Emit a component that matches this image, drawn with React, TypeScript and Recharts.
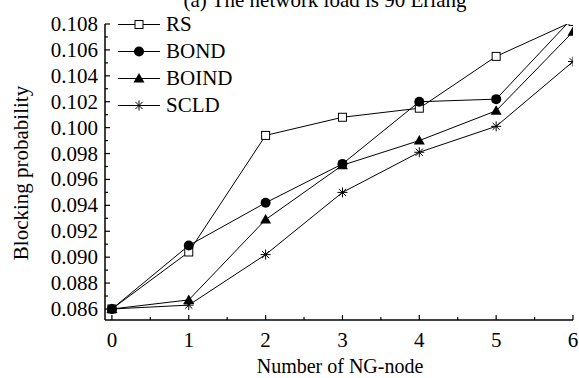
import React from 'react'
import { LineChart, Line, XAxis, YAxis, Legend } from 'recharts'

// values
const NODES = [0, 1, 2, 3, 4, 5, 6]
const RS = [0.086, 0.0904, 0.0994, 0.1008, 0.1015, 0.1055, 0.1082]
const BOND = [0.086, 0.0909, 0.0942, 0.0972, 0.102, 0.1022, 0.1085]
const BOIND = [0.086, 0.0867, 0.0929, 0.0971, 0.099, 0.1013, 0.1074]
const SCLD = [0.086, 0.0863, 0.0902, 0.095, 0.0981, 0.1001, 0.1051]

const X_TICKS = [0, 1, 2, 3, 4, 5, 6]
const Y_TICKS = [0.086, 0.088, 0.09, 0.092, 0.094, 0.096, 0.098, 0.1, 0.102, 0.104, 0.106, 0.108]

const FONT = '"Liberation Serif", "Times New Roman", serif'
const W = 579
const H = 378

type MarkerKind = 'square' | 'circle' | 'triangle' | 'star'

const SERIES: { key: string; label: string; marker: MarkerKind }[] = [
  { key: 'rs', label: 'RS', marker: 'square' },
  { key: 'bond', label: 'BOND', marker: 'circle' },
  { key: 'boind', label: 'BOIND', marker: 'triangle' },
  { key: 'scld', label: 'SCLD', marker: 'star' },
]

const data = NODES.map((n, i) => ({
  node: n,
  rs: RS[i],
  bond: BOND[i],
  boind: BOIND[i],
  scld: SCLD[i],
}))

// major ticks plus a minor one halfway between
const withMinor = (ticks: number[]) =>
  ticks.flatMap((t, i) => (i < ticks.length - 1 ? [t, (t + ticks[i + 1]) / 2] : [t]))

const isMajor = (v: number, ticks: number[]) => ticks.some(t => Math.abs(t - v) < 1e-9)

function Marker({ kind, cx, cy }: { kind: MarkerKind; cx: number; cy: number }) {
  switch (kind) {
    case 'square':
      return <rect x={cx - 4} y={cy - 4} width={8} height={8} fill="#fff" stroke="#000" strokeWidth={1} />
    case 'circle':
      return <circle cx={cx} cy={cy} r={5} fill="#000" />
    case 'triangle':
      return <path d={`M${cx},${cy - 5.5} L${cx + 5.5},${cy + 4} L${cx - 5.5},${cy + 4} Z`} fill="#000" />
    default:
      return (
        <g stroke="#000" strokeWidth={1}>
          <line x1={cx} y1={cy - 5} x2={cx} y2={cy + 5} />
          <line x1={cx - 5} y1={cy} x2={cx + 5} y2={cy} />
          <line x1={cx - 3.6} y1={cy - 3.6} x2={cx + 3.6} y2={cy + 3.6} />
          <line x1={cx - 3.6} y1={cy + 3.6} x2={cx + 3.6} y2={cy - 3.6} />
        </g>
      )
  }
}

const XTick = ({ x, y, payload }: any) => {
  const major = isMajor(payload.value, X_TICKS)
  return (
    <g>
      <line x1={x} y1={y} x2={x} y2={y - (major ? 5 : 3)} stroke="#000" strokeWidth={1.2} />
      {major && (
        <text x={x} y={y + 27} textAnchor="middle" fill="#000" fontSize={21} fontFamily={FONT}>
          {payload.value}
        </text>
      )}
    </g>
  )
}

const YTick = ({ x, y, payload }: any) => {
  const major = isMajor(payload.value, Y_TICKS)
  return (
    <g>
      <line x1={x} y1={y} x2={x + (major ? 5 : 3)} y2={y} stroke="#000" strokeWidth={1.2} />
      {major && (
        <text x={x - 7} y={y + 7} textAnchor="end" fill="#000" fontSize={21} fontFamily={FONT}>
          {payload.value.toFixed(3)}
        </text>
      )}
    </g>
  )
}

const LegendBox = () => (
  <div style={{ fontFamily: FONT, fontSize: 21, color: '#000' }}>
    {SERIES.map(s => (
      <div key={s.key} style={{ display: 'flex', alignItems: 'center', height: 27 }}>
        <svg width={44} height={27} style={{ display: 'block' }}>
          <line x1={0} y1={13.5} x2={42} y2={13.5} stroke="#000" strokeWidth={1} />
          <Marker kind={s.marker} cx={21} cy={13.5} />
        </svg>
        <span style={{ marginLeft: 4, lineHeight: '27px' }}>{s.label}</span>
      </div>
    ))}
  </div>
)

export default function App() {
  return (
    <div style={{ position: 'absolute', left: 0, top: 0, width: W, height: H, background: '#fff' }}>
      <LineChart width={W} height={H} data={data} margin={{ top: 24, right: 6, bottom: 0, left: 0 }}>
        <text x={325} y={7} textAnchor="middle" fill="#000" fontSize={21} fontFamily={FONT}>
          (a) The network load is 90 Erlang
        </text>
        <XAxis
          dataKey="node"
          type="number"
          domain={[-0.09, 6]}
          allowDataOverflow
          ticks={withMinor(X_TICKS)}
          interval={0}
          tick={<XTick />}
          tickLine={false}
          tickSize={0}
          tickMargin={0}
          height={58}
          axisLine={{ stroke: '#000', strokeWidth: 1.5 }}
          label={{
            content: () => (
              <text x={340} y={373} textAnchor="middle" fill="#000" fontSize={20} fontFamily={FONT}>
                Number of NG-node
              </text>
            ),
          }}
        />
        <YAxis
          type="number"
          domain={[0.08515, 0.108]}
          allowDataOverflow
          ticks={withMinor(Y_TICKS)}
          interval={0}
          tick={<YTick />}
          tickLine={false}
          tickSize={0}
          tickMargin={0}
          width={105}
          axisLine={{ stroke: '#000', strokeWidth: 1.5 }}
          label={{
            content: () => (
              <text
                x={28}
                y={173}
                transform="rotate(-90 28 173)"
                textAnchor="middle"
                fill="#000"
                fontSize={21}
                fontFamily={FONT}
              >
                Blocking probability
              </text>
            ),
          }}
        />
        <Legend
          layout="vertical"
          verticalAlign="middle"
          align="center"
          content={<LegendBox />}
          wrapperStyle={{ left: 118, top: 11, width: 'auto' }}
        />
        {SERIES.map(s => (
          <Line
            key={s.key}
            dataKey={s.key}
            name={s.label}
            stroke="#000"
            strokeWidth={1}
            isAnimationActive={false}
            dot={(p: any) => <Marker key={`${s.key}-${p.index}`} kind={s.marker} cx={p.cx} cy={p.cy} />}
            activeDot={false}
          />
        ))}
      </LineChart>
    </div>
  )
}
